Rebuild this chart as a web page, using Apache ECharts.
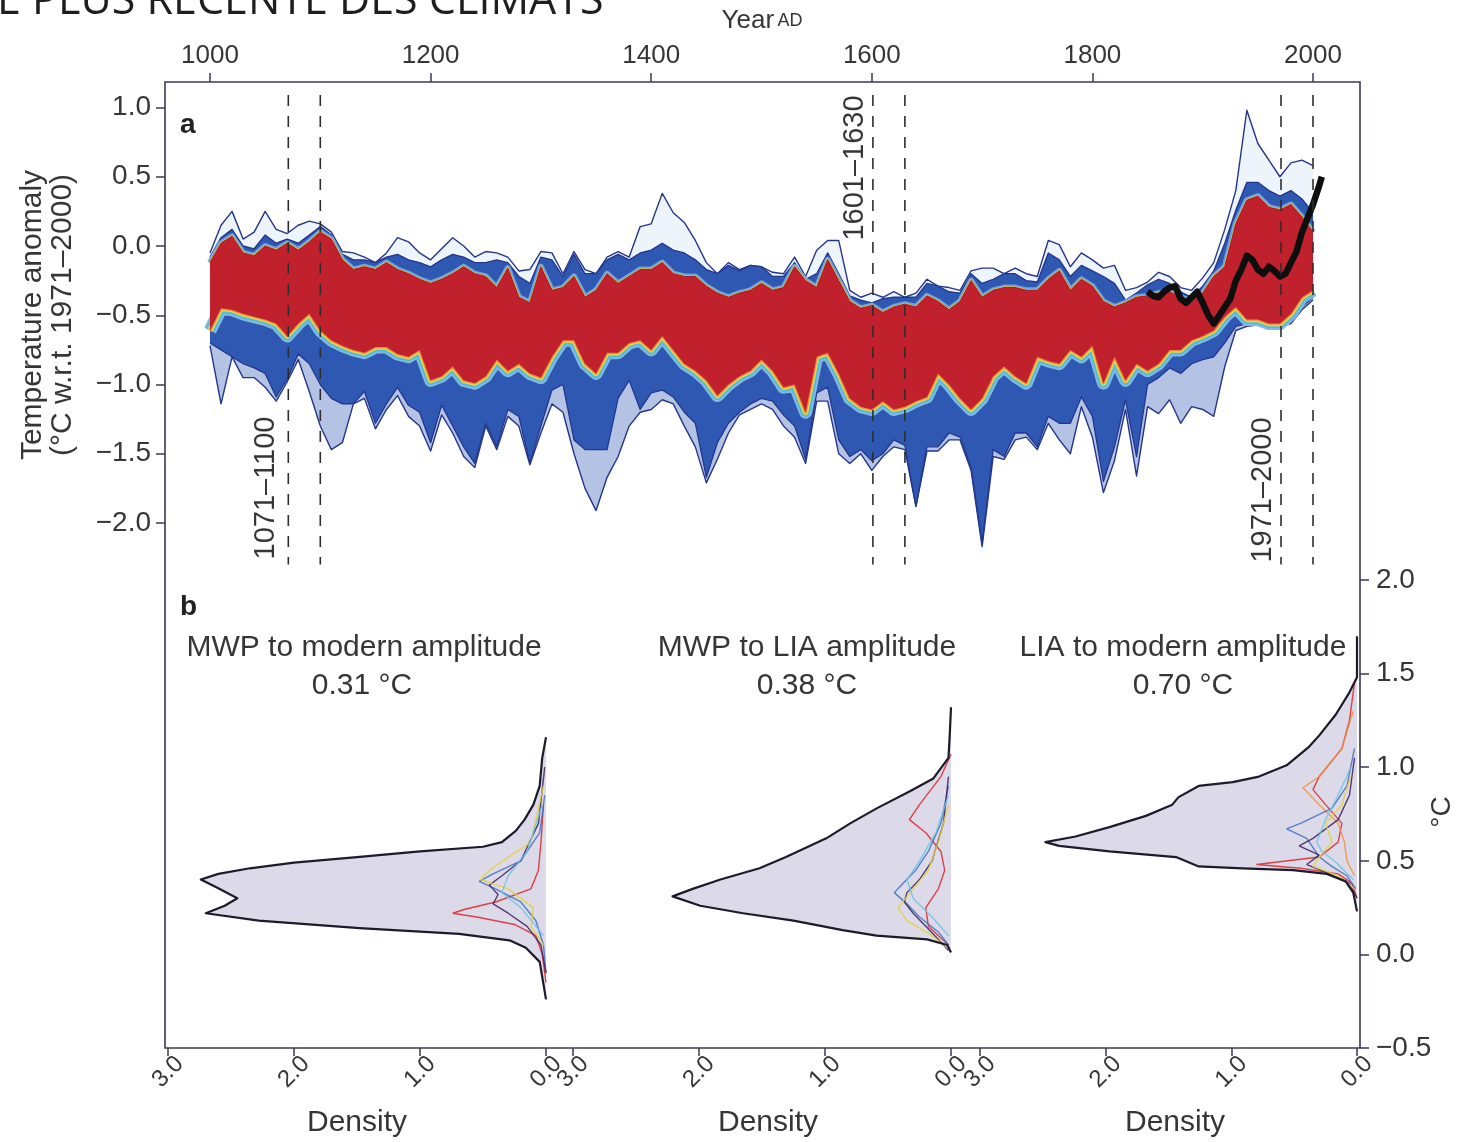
<!DOCTYPE html>
<html>
<head>
<meta charset="utf-8">
<script src="https://cdn.jsdelivr.net/npm/echarts@6/dist/echarts.min.js"></script>
<style>
html,body{margin:0;padding:0;background:#fff}
#chart{width:1468px;height:1142px}
</style>
</head>
<body>
<div id="chart"></div>
<script>
// ---------- Panel a: ensemble of reconstructions, decadal envelopes (°C w.r.t. 1971–2000) ----------
const years = [
  1000,1010,1020,1030,1040,1050,1060,1070,1080,1090,
  1100,1110,1120,1130,1140,1150,1160,1170,1180,1190,
  1200,1210,1220,1230,1240,1250,1260,1270,1280,1290,
  1300,1310,1320,1330,1340,1350,1360,1370,1380,1390,
  1400,1410,1420,1430,1440,1450,1460,1470,1480,1490,
  1500,1510,1520,1530,1540,1550,1560,1570,1580,1590,
  1600,1610,1620,1630,1640,1650,1660,1670,1680,1690,
  1700,1710,1720,1730,1740,1750,1760,1770,1780,1790,
  1800,1810,1820,1830,1840,1850,1860,1870,1880,1890,
  1900,1910,1920,1930,1940,1950,1960,1970,1980,1990,
  2000
];
// warmest single members
const upperOuter = [
  -0.05,0.15,0.25,0.05,0.10,0.25,0.12,0.09,0.15,0.18,
  0.16,0.10,-0.04,-0.05,-0.08,-0.12,-0.05,0.06,0.03,-0.05,
  -0.10,-0.02,0.06,0.00,-0.08,-0.04,-0.05,-0.08,-0.18,-0.17,
  -0.04,-0.05,-0.20,-0.04,-0.17,-0.20,-0.08,-0.04,-0.08,0.14,
  0.16,0.38,0.24,0.17,0.04,-0.12,-0.20,-0.12,-0.17,-0.14,
  -0.15,-0.19,-0.20,-0.08,-0.22,-0.03,0.04,0.04,-0.32,-0.37,
  -0.34,-0.37,-0.33,-0.37,-0.34,-0.24,-0.29,-0.30,-0.32,-0.18,
  -0.16,-0.16,-0.20,-0.16,-0.20,-0.22,0.04,0.01,-0.15,-0.05,
  -0.10,-0.16,-0.14,-0.32,-0.30,-0.26,-0.19,-0.22,-0.30,-0.32,
  -0.23,-0.12,0.12,0.40,0.98,0.74,0.62,0.50,0.60,0.62,
  0.58
];
// top of the dense bundle of members
const blueTop = [
  -0.08,0.06,0.12,0.00,-0.02,0.08,0.02,0.05,0.02,0.08,
  0.14,0.08,-0.06,-0.10,-0.10,-0.12,-0.08,-0.06,-0.10,-0.12,
  -0.15,-0.10,-0.06,-0.08,-0.12,-0.12,-0.10,-0.12,-0.22,-0.27,
  -0.08,-0.10,-0.22,-0.06,-0.20,-0.20,-0.10,-0.06,-0.10,-0.05,
  -0.03,0.02,-0.03,-0.05,-0.10,-0.17,-0.20,-0.14,-0.18,-0.14,
  -0.15,-0.22,-0.22,-0.12,-0.24,-0.20,-0.05,-0.20,-0.36,-0.39,
  -0.41,-0.38,-0.37,-0.37,-0.37,-0.27,-0.29,-0.33,-0.34,-0.20,
  -0.27,-0.24,-0.20,-0.20,-0.25,-0.26,-0.05,-0.10,-0.22,-0.14,
  -0.18,-0.22,-0.27,-0.39,-0.34,-0.28,-0.24,-0.27,-0.33,-0.37,
  -0.29,-0.18,0.02,0.26,0.46,0.46,0.40,0.36,0.40,0.34,
  0.24
];
// high-density core of the ensemble
const redTop = [
  -0.12,0.02,0.07,-0.05,-0.07,0.00,-0.03,0.02,-0.03,0.03,
  0.10,0.05,-0.10,-0.17,-0.15,-0.17,-0.12,-0.17,-0.20,-0.24,
  -0.27,-0.24,-0.20,-0.15,-0.20,-0.22,-0.30,-0.16,-0.37,-0.41,
  -0.15,-0.32,-0.30,-0.22,-0.37,-0.32,-0.20,-0.27,-0.22,-0.17,
  -0.17,-0.12,-0.20,-0.22,-0.22,-0.29,-0.34,-0.37,-0.34,-0.32,
  -0.27,-0.32,-0.30,-0.15,-0.25,-0.30,-0.10,-0.25,-0.40,-0.45,
  -0.43,-0.48,-0.44,-0.42,-0.44,-0.36,-0.40,-0.46,-0.40,-0.25,
  -0.37,-0.32,-0.30,-0.30,-0.32,-0.32,-0.24,-0.18,-0.32,-0.24,
  -0.29,-0.40,-0.44,-0.41,-0.37,-0.36,-0.34,-0.33,-0.37,-0.40,
  -0.34,-0.22,-0.15,0.16,0.33,0.36,0.28,0.26,0.30,0.21,
  0.10
];
const redBottom = [
  -0.61,-0.45,-0.46,-0.49,-0.51,-0.53,-0.56,-0.65,-0.56,-0.49,
  -0.61,-0.68,-0.72,-0.75,-0.77,-0.73,-0.73,-0.78,-0.80,-0.75,
  -0.97,-0.94,-0.87,-0.97,-0.99,-0.94,-0.82,-0.90,-0.85,-0.92,
  -0.95,-0.80,-0.68,-0.68,-0.85,-0.92,-0.77,-0.77,-0.70,-0.68,
  -0.75,-0.65,-0.75,-0.85,-0.90,-0.97,-1.08,-1.00,-0.94,-0.90,
  -0.82,-0.90,-1.02,-1.00,-1.20,-0.80,-0.77,-0.92,-1.10,-1.16,
  -1.18,-1.12,-1.18,-1.16,-1.12,-1.09,-0.92,-1.00,-1.10,-1.18,
  -1.10,-0.94,-0.87,-0.94,-0.99,-0.80,-0.83,-0.85,-0.75,-0.80,
  -0.72,-0.99,-0.80,-0.97,-0.85,-0.90,-0.85,-0.75,-0.75,-0.68,
  -0.65,-0.61,-0.51,-0.44,-0.53,-0.53,-0.56,-0.56,-0.49,-0.37,
  -0.32
];
// bottom of the dense bundle of members
const blueBottom = [
  -0.70,-0.75,-0.80,-0.85,-0.88,-0.92,-1.09,-0.96,-0.78,-0.85,
  -1.00,-1.10,-1.14,-1.14,-1.05,-1.28,-1.14,-1.02,-1.15,-1.20,
  -1.42,-1.15,-1.30,-1.45,-1.57,-1.28,-1.45,-1.18,-1.23,-1.57,
  -1.30,-1.04,-1.00,-1.40,-1.47,-1.47,-1.47,-1.10,-0.97,-1.18,
  -1.06,-1.04,-1.09,-1.20,-1.28,-1.67,-1.42,-1.28,-1.20,-1.14,
  -1.10,-1.12,-1.22,-1.30,-1.54,-1.06,-1.02,-1.40,-1.52,-1.47,
  -1.55,-1.50,-1.40,-1.44,-1.88,-1.45,-1.45,-1.35,-1.38,-1.60,
  -2.15,-1.47,-1.52,-1.35,-1.35,-1.45,-1.23,-1.28,-1.28,-1.09,
  -1.23,-1.70,-1.45,-1.11,-1.52,-1.00,-0.95,-0.88,-0.92,-0.85,
  -0.82,-0.80,-0.70,-0.58,-0.56,-0.56,-0.56,-0.56,-0.53,-0.44,
  -0.37
];
// coldest single members
const outerLow = [
  -0.72,-1.14,-0.80,-0.95,-0.95,-1.02,-1.12,-0.98,-0.82,-1.05,
  -1.30,-1.47,-1.42,-1.14,-1.10,-1.32,-1.18,-1.08,-1.23,-1.30,
  -1.48,-1.22,-1.35,-1.52,-1.60,-1.30,-1.47,-1.23,-1.30,-1.58,
  -1.35,-1.14,-1.20,-1.50,-1.75,-1.91,-1.67,-1.52,-1.30,-1.20,
  -1.18,-1.11,-1.14,-1.30,-1.45,-1.71,-1.54,-1.35,-1.22,-1.18,
  -1.14,-1.18,-1.30,-1.38,-1.57,-1.12,-1.12,-1.50,-1.57,-1.50,
  -1.62,-1.52,-1.45,-1.47,-1.88,-1.48,-1.48,-1.40,-1.40,-1.62,
  -2.17,-1.52,-1.54,-1.40,-1.38,-1.47,-1.28,-1.40,-1.50,-1.16,
  -1.38,-1.78,-1.55,-1.18,-1.66,-1.16,-1.21,-1.11,-1.28,-1.16,
  -1.18,-1.23,-0.87,-0.61,-0.58,-0.57,-0.58,-0.58,-0.56,-0.46,
  -0.39
];
// instrumental record
const instrYears = [1850,1855,1860,1865,1870,1875,1880,1885,1890,1895,1900,1905,1910,1915,1920,1925,
  1930,1935,1940,1945,1950,1955,1960,1965,1970,1975,1980,1985,1990,1995,2000,2005,2008];
const instrTemp = [-0.33,-0.36,-0.37,-0.33,-0.30,-0.29,-0.38,-0.41,-0.37,-0.33,-0.41,-0.50,-0.56,-0.50,-0.44,-0.38,
  -0.25,-0.17,-0.07,-0.10,-0.17,-0.20,-0.15,-0.18,-0.22,-0.20,-0.12,-0.04,0.10,0.20,0.30,0.42,0.50];
// reference periods (MWP, LIA, modern)
const periodEdges = [1071,1100,1601,1630,1971,2000];
const periodLabels = ['1071–1100','1601–1630','1971–2000'];
const yearTicks = [1000,1200,1400,1600,1800,2000];
const anomalyTicks = [-2.0,-1.5,-1.0,-0.5,0.0,0.5,1.0];

// ---------- Panel b: amplitude distributions (temperature °C, density) ----------
const mwpModernTemp = [1.16,1.05,0.90,0.80,0.72,0.66,0.60,0.575,0.55,0.52,0.49,0.46,0.43,0.40,0.36,0.30,0.26,0.22,0.18,0.14,0.11,0.075,0.035,-0.04,-0.12,-0.24];
const mwpModernDens = [0,0.03,0.05,0.10,0.17,0.24,0.35,0.50,1.00,1.50,2.00,2.35,2.60,2.74,2.62,2.45,2.55,2.70,2.28,1.48,0.69,0.29,0.16,0.05,0.03,0];
const mwpLiaTemp = [1.32,1.17,1.05,0.94,0.87,0.78,0.70,0.62,0.52,0.46,0.40,0.35,0.31,0.26,0.22,0.18,0.13,0.10,0.08,0.05,0.01];
const mwpLiaDens = [0,0.01,0.02,0.14,0.33,0.59,0.80,0.99,1.31,1.52,1.83,2.05,2.21,1.99,1.65,1.25,0.86,0.59,0.19,0.03,0];
const liaModernTemp = [1.70,1.48,1.40,1.28,1.17,1.11,1.01,0.95,0.92,0.90,0.84,0.80,0.74,0.68,0.63,0.60,0.58,0.55,0.52,0.47,0.46,0.45,0.43,0.39,0.33,0.23];
const liaModernDens = [0,0,0.06,0.17,0.30,0.38,0.56,0.78,0.99,1.26,1.42,1.47,1.68,1.97,2.24,2.48,2.37,1.97,1.44,1.26,0.91,0.51,0.24,0.09,0.03,0];
const amplitudeTitles = ['MWP to modern amplitude','MWP to LIA amplitude','LIA to modern amplitude'];
const amplitudeValues = ['0.31 °C','0.38 °C','0.70 °C'];

// single-reconstruction distributions drawn inside each envelope
const members = [
  [ // MWP to modern
    {c:'#d8272d', t:[0.80,0.60,0.45,0.35,0.28,0.24,0.22,0.20,0.16,0.10,0.00,-0.15], d:[0.02,0.04,0.06,0.12,0.40,0.65,0.74,0.55,0.25,0.08,0.03,0]},
    {c:'#3e6fc6', t:[0.85,0.65,0.50,0.43,0.39,0.35,0.28,0.18,0.05,-0.10], d:[0.01,0.05,0.20,0.42,0.53,0.40,0.20,0.08,0.02,0]},
    {c:'#3b1f5e', t:[1.00,0.70,0.50,0.42,0.37,0.32,0.27,0.22,0.15,0.05,-0.10], d:[0.01,0.06,0.20,0.35,0.45,0.38,0.42,0.30,0.15,0.04,0]},
    {c:'#e3d13c', t:[0.90,0.60,0.45,0.40,0.35,0.25,0.15,0.05], d:[0.02,0.12,0.45,0.52,0.30,0.10,0.12,0.02]},
    {c:'#6cc4e4', t:[0.80,0.55,0.42,0.33,0.25,0.10], d:[0.03,0.15,0.30,0.35,0.20,0.02]}
  ],
  [ // MWP to LIA
    {c:'#d8272d', t:[1.07,0.95,0.80,0.72,0.65,0.55,0.45,0.35,0.25,0.15,0.05], d:[0,0.08,0.25,0.33,0.20,0.08,0.05,0.10,0.20,0.18,0.02]},
    {c:'#3e6fc6', t:[0.90,0.70,0.55,0.45,0.38,0.33,0.27,0.20,0.12,0.05], d:[0.02,0.08,0.18,0.28,0.38,0.45,0.35,0.25,0.10,0.02]},
    {c:'#3b1f5e', t:[0.95,0.70,0.50,0.40,0.33,0.28,0.22,0.15,0.08,0.02], d:[0.02,0.06,0.15,0.25,0.35,0.37,0.30,0.20,0.10,0.02]},
    {c:'#e3d13c', t:[0.80,0.60,0.45,0.35,0.25,0.18,0.10,0.03], d:[0.02,0.10,0.18,0.30,0.42,0.35,0.15,0.02]},
    {c:'#6cc4e4', t:[0.85,0.65,0.50,0.40,0.30,0.20,0.10], d:[0.02,0.12,0.25,0.35,0.30,0.15,0.02]}
  ],
  [ // LIA to modern
    {c:'#d8272d', t:[1.45,1.25,1.10,0.95,0.88,0.80,0.70,0.60,0.52,0.48,0.46,0.43,0.38,0.30], d:[0.02,0.06,0.12,0.30,0.35,0.25,0.12,0.15,0.30,0.80,0.45,0.15,0.04,0]},
    {c:'#f0913c', t:[1.30,1.10,0.95,0.89,0.80,0.70,0.60,0.50,0.42], d:[0.03,0.12,0.30,0.43,0.30,0.15,0.10,0.08,0.02]},
    {c:'#3e6fc6', t:[1.10,0.90,0.78,0.70,0.67,0.62,0.57,0.52,0.47,0.42,0.35], d:[0.02,0.08,0.20,0.45,0.56,0.40,0.35,0.30,0.20,0.08,0.01]},
    {c:'#3b1f5e', t:[1.05,0.85,0.72,0.62,0.58,0.53,0.48,0.44,0.38,0.30], d:[0.02,0.06,0.15,0.35,0.46,0.30,0.40,0.25,0.06,0]},
    {c:'#e3d13c', t:[0.95,0.80,0.70,0.60,0.52,0.47,0.42,0.35], d:[0.05,0.12,0.25,0.20,0.30,0.35,0.15,0.02]},
    {c:'#6cc4e4', t:[1.00,0.85,0.72,0.60,0.55,0.50,0.40], d:[0.05,0.15,0.25,0.32,0.28,0.18,0.03]}
  ]
];

// ---------- styling ----------
const FRAME = '#3d3951';
const TXT = '#363636';
const FONT = '"Liberation Sans", Arial, Helvetica, sans-serif';
const fmt = v => (v < 0 ? '\u2212' : '') + Math.abs(v).toFixed(1);

const pairs = (xs, ys) => xs.map((x, i) => [x, ys[i]]);

// filled band between two decadal envelopes of panel a
function band(lower, upper, fill, z) {
  return {
    type: 'custom', xAxisIndex: 0, yAxisIndex: 0, z, silent: true,
    data: [[years[0], lower[0]]],
    renderItem(params, api) {
      const p = [];
      for (let i = 0; i < years.length; i++) p.push(api.coord([years[i], upper[i]]));
      for (let i = years.length - 1; i >= 0; i--) p.push(api.coord([years[i], lower[i]]));
      return { type: 'polygon', shape: { points: p }, style: { fill } };
    }
  };
}
function line(axis, xs, ys, color, width, z, extra) {
  return Object.assign({
    type: 'line', xAxisIndex: axis, yAxisIndex: axis, z, silent: true,
    symbol: 'none', showSymbol: false, clip: false,
    data: pairs(xs, ys),
    lineStyle: { color, width, join: 'round', cap: 'butt' }
  }, extra || {});
}
// filled density envelope, closed against the zero-density axis
function densityFill(axis, temps, dens) {
  return {
    type: 'custom', xAxisIndex: axis, yAxisIndex: axis, z: 2, silent: true,
    data: [[0, temps[0]]],
    renderItem(params, api) {
      const p = temps.map((t, i) => api.coord([dens[i], t]));
      p.push(api.coord([0, temps[temps.length - 1]]));
      p.push(api.coord([0, temps[0]]));
      return { type: 'polygon', shape: { points: p }, style: { fill: '#dcdae8' } };
    }
  };
}

const series = [];
// panel a
series.push(band(outerLow, blueBottom, 'rgba(47,88,179,0.36)', 1));
series.push(line(0, years, outerLow, '#24358c', 1.4, 2));
series.push(line(0, years, upperOuter, '#24358c', 1.4, 2));
series.push(band(blueTop, upperOuter, 'rgba(110,165,225,0.12)', 1));
series.push(band(blueBottom, blueTop, '#2f58b3', 3));
series.push(line(0, years, blueBottom, '#22368e', 1.3, 4));
series.push(line(0, years, blueTop, '#22368e', 1.3, 4));
// colour transition at the edges of the core
series.push(line(0, years, redBottom, '#7fb9e6', 13, 5));
series.push(line(0, years, redBottom, '#52bcd4', 9, 5.1));
series.push(line(0, years, redBottom, '#e2d64c', 5.5, 5.2));
series.push(line(0, years, redBottom, '#ee8a3a', 2.5, 5.3));
series.push(line(0, years, redTop, '#6aa6de', 6, 5));
series.push(line(0, years, redTop, '#e0b64a', 2.5, 5.2));
series.push(band(redBottom, redTop, '#c1212c', 6));
series.push(line(0, years, redTop, '#a51a27', 1, 6.1));
series.push(line(0, instrYears, instrTemp, '#0e0e0e', 6.5, 8));
periodEdges.forEach(yr => {
  series.push(line(0, [yr, yr], [1.09, -2.30], '#2e2e2e', 1.6, 9, { lineStyle: { color: '#2e2e2e', width: 1.6, type: [11, 10] } }));
});
// panel b
const dTemps = [mwpModernTemp, mwpLiaTemp, liaModernTemp];
const dDens = [mwpModernDens, mwpLiaDens, liaModernDens];
for (let k = 0; k < 3; k++) {
  series.push(densityFill(k + 1, dTemps[k], dDens[k]));
  members[k].forEach(m => series.push(line(k + 1, m.d, m.t, m.c, 1.4, 3, { lineStyle: { color: m.c, width: 1.4, opacity: 0.85 } })));
  series.push(line(k + 1, dDens[k], dTemps[k], '#1d1a2c', 2.2, 4));
}

const tickStyle = { color: FRAME, width: 1.5 };
const xAxes = [{
  gridIndex: 0, type: 'value', position: 'top', min: 959.2, max: 2042.6,
  axisLine: { show: false, onZero: false }, splitLine: { show: false },
  axisTick: { show: true, length: 9, customValues: yearTicks, lineStyle: tickStyle },
  axisLabel: { customValues: yearTicks, formatter: v => String(v), color: TXT, fontSize: 26, fontFamily: FONT, margin: 13 }
}];
const yAxes = [{
  gridIndex: 0, type: 'value', min: -2.303, max: 1.184,
  axisLine: { show: false, onZero: false }, splitLine: { show: false },
  axisTick: { show: true, length: 9, customValues: anomalyTicks, lineStyle: tickStyle },
  axisLabel: { customValues: anomalyTicks, formatter: fmt, color: TXT, fontSize: 28, fontFamily: FONT, margin: 14 }
}];
for (let k = 1; k <= 3; k++) {
  xAxes.push({
    gridIndex: k, type: 'value', inverse: true, min: 0, max: 3, interval: 1,
    axisLine: { show: false, onZero: false }, splitLine: { show: false },
    axisTick: { show: true, length: 8, lineStyle: tickStyle },
    axisLabel: { rotate: 45, align: 'center', verticalAlign: 'middle', formatter: v => v.toFixed(1), color: TXT, fontSize: 24, fontFamily: FONT, margin: 24 }
  });
  yAxes.push(k < 3 ? { gridIndex: k, type: 'value', min: -0.5, max: 2.0, show: false } : {
    gridIndex: k, type: 'value', min: -0.5, max: 2.0, interval: 0.5, position: 'right', offset: 3,
    axisLine: { show: false, onZero: false }, splitLine: { show: false },
    axisTick: { show: true, length: 9, lineStyle: tickStyle },
    axisLabel: { formatter: fmt, color: TXT, fontSize: 28, fontFamily: FONT, margin: 16 }
  });
}

const T = (text, x, y, size, opts) => Object.assign({
  type: 'text', x, y, silent: true, z: 20,
  style: Object.assign({ text, fill: TXT, font: size + 'px ' + FONT, align: 'center', verticalAlign: 'middle' }, (opts && opts.style) || {})
}, opts && opts.rotation !== undefined ? { rotation: opts.rotation } : {});

const graphics = [
  { type: 'rect', shape: { x: 165, y: 82, width: 1195, height: 966 }, style: { fill: 'none', stroke: FRAME, lineWidth: 1.6 }, z: 15, silent: true },
  { type: 'text', x: -3, y: 2, z: 20, silent: true,
    style: { text: 'E PLUS RÉCENTE DES CLIMATS', fill: '#1e1e1e', font: '43px "Open Sans", sans-serif', align: 'left', verticalAlign: 'middle' } },
  { type: 'text', x: 762, y: 21, z: 20, silent: true,
    style: { text: '{y|Year} {s|AD}', align: 'center', verticalAlign: 'middle', fill: TXT,
      rich: { y: { fontSize: 26, fontFamily: FONT, fill: TXT }, s: { fontSize: 18, fontFamily: FONT, fill: TXT } } } },
  T('Temperature anomaly', 33, 315, 30, { rotation: Math.PI / 2 }),
  T('(°C w.r.t. 1971–2000)', 63, 315, 30, { rotation: Math.PI / 2 }),
  T('a', 180, 125, 28, { style: { align: 'left', font: 'bold 28px ' + FONT, fill: '#222' } }),
  T('b', 180, 607, 28, { style: { align: 'left', font: 'bold 28px ' + FONT, fill: '#222' } }),
  T(periodLabels[0], 266, 488, 29, { rotation: Math.PI / 2 }),
  T(periodLabels[1], 855, 168, 29, { rotation: Math.PI / 2 }),
  T(periodLabels[2], 1263, 490, 29, { rotation: Math.PI / 2 }),
  T(amplitudeTitles[0], 364, 648, 30),
  T(amplitudeValues[0], 362, 686, 30),
  T(amplitudeTitles[1], 807, 648, 30),
  T(amplitudeValues[1], 807, 686, 30),
  T(amplitudeTitles[2], 1183, 648, 30),
  T(amplitudeValues[2], 1183, 686, 30),
  T('Density', 357, 1123, 30),
  T('Density', 768, 1123, 30),
  T('Density', 1175, 1123, 30),
  T('°C', 1442, 812, 28, { rotation: Math.PI / 2 })
];

const chart = echarts.init(document.getElementById('chart'), null, { renderer: 'canvas' });
chart.setOption({
  backgroundColor: '#ffffff',
  animation: false,
  grid: [
    { left: 165, top: 82, width: 1195, height: 483 },
    { left: 168, top: 580, width: 378, height: 468 },
    { left: 573, top: 580, width: 378, height: 468 },
    { left: 980, top: 580, width: 377, height: 468 }
  ],
  xAxis: xAxes,
  yAxis: yAxes,
  series,
  graphic: graphics
});
</script>
</body>
</html>
